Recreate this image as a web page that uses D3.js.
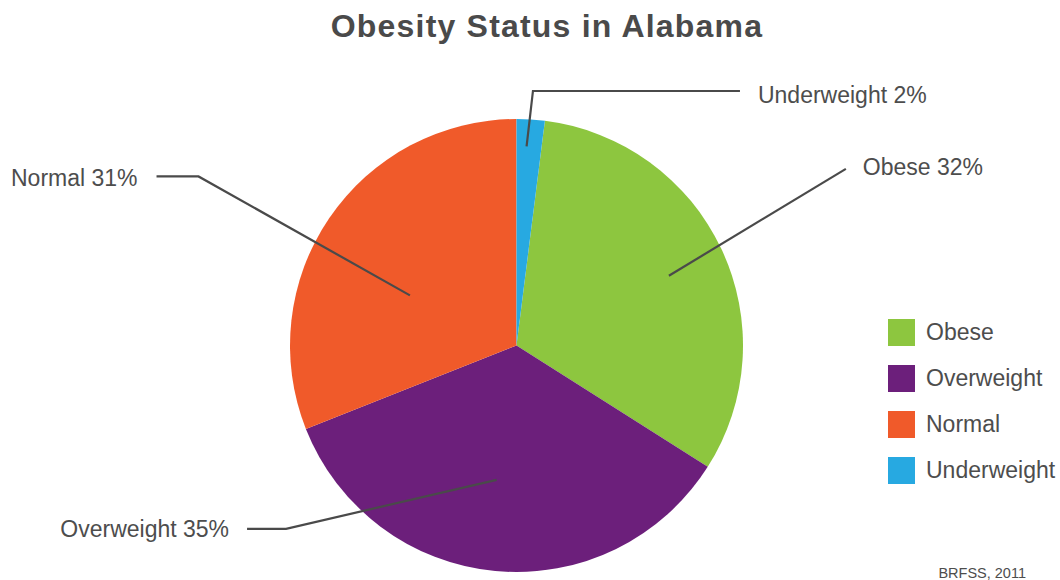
<!DOCTYPE html>
<html>
<head>
<meta charset="utf-8">
<script src="https://cdn.jsdelivr.net/npm/d3@7"></script>
<style>
  html, body { margin: 0; padding: 0; background: #fff; }
  svg { display: block; font-family: "Liberation Sans", Arial, Helvetica, sans-serif; }
</style>
</head>
<body>
<svg id="chart" width="1060" height="580"></svg>
<script>
// ---- data ----
const categories = ["Obese", "Overweight", "Normal", "Underweight"];
const percents = [32, 35, 31, 2];
const colors = ["#8dc63f", "#6c1f7b", "#f05a2a", "#27a9e1"];
const titleText = "Obesity Status in Alabama";
const sourceText = "BRFSS, 2011";

// ---- layout ----
const W = 1060, H = 580;
const cx = 516.5, cy = 345.5, R = 226.5;
const svg = d3.select("#chart");

svg.append("text")
  .attr("x", 547).attr("y", 37)
  .attr("text-anchor", "middle")
  .attr("font-size", 32).attr("font-weight", "bold")
  .attr("letter-spacing", 1.2)
  .attr("fill", "#4a4a4a")
  .text(titleText);

const data = categories.map((c, i) => ({ name: c, value: percents[i], color: colors[i] }));
const offset = percents[3] / 100 * 2 * Math.PI;
const pie = d3.pie().sort(null).value(d => d.value)
  .startAngle(offset).endAngle(offset + 2 * Math.PI);
const arcs = pie(data);
const arc = d3.arc().innerRadius(0).outerRadius(R);

const g = svg.append("g").attr("transform", `translate(${cx},${cy})`);
g.selectAll("path.slice").data(arcs).enter().append("path")
  .attr("class", "slice")
  .attr("d", arc)
  .attr("fill", d => d.data.color);

// label leader layout (relative to pie): inner radius fraction & angle tweak (deg),
// elbow point in polar (radius fraction, angle deg), horizontal tail length, text side
const labelLayout = {
  Obese:       { inner: 0.74, dA: 0.6,  elbowR: 1.65, elbowA: 61.8,  tail: 0,   side: 1,  gap: 17, dy: 6 },
  Overweight:  { inner: 0.60, dA: 3,    elbowR: 1.30, elbowA: 231.5, tail: -39, side: -1, gap: 18, dy: 8 },
  Normal:      { inner: 0.52, dA: -9,   elbowR: 1.59, elbowA: 298,   tail: -42, side: -1, gap: 19, dy: 10 },
  Underweight: { inner: 0.88, dA: -0.7, elbowR: 1.126, elbowA: 3.7, tail: 207, side: 1,  gap: 18, dy: 12 }
};
const polar = (r, aDeg) => {
  const a = aDeg * Math.PI / 180;
  return [r * Math.sin(a), -r * Math.cos(a)];
};

arcs.forEach(d => {
  const L = labelLayout[d.data.name];
  const mid = ((d.startAngle + d.endAngle) / 2) * 180 / Math.PI;
  const p0 = polar(R * L.inner, mid + L.dA);
  const p1 = polar(R * L.elbowR, L.elbowA);
  const p2 = [p1[0] + L.tail, p1[1]];
  g.append("polyline")
    .attr("points", [p0, p1, p2].map(p => p.join(",")).join(" "))
    .attr("fill", "none")
    .attr("stroke", "#4a4a4a")
    .attr("stroke-width", 2.2);
  g.append("text")
    .attr("x", p2[0] + L.side * L.gap)
    .attr("y", p2[1] + L.dy)
    .attr("text-anchor", L.side > 0 ? "start" : "end")
    .attr("font-size", 23)
    .attr("fill", "#4d4d4d")
    .text(`${d.data.name} ${d.data.value}%`);
});

// legend
const lg = svg.append("g").attr("transform", "translate(888,319)");
const item = lg.selectAll("g").data(data).enter().append("g")
  .attr("transform", (d, i) => `translate(0,${i * 46})`);
item.append("rect").attr("width", 27).attr("height", 27).attr("fill", d => d.color);
item.append("text").attr("x", 38).attr("y", 21)
  .attr("font-size", 23).attr("fill", "#4d4d4d")
  .text(d => d.name);

svg.append("text")
  .attr("x", 1026).attr("y", 578)
  .attr("text-anchor", "end")
  .attr("font-size", 14.5).attr("fill", "#4d4d4d")
  .text(sourceText);
</script>
</body>
</html>
